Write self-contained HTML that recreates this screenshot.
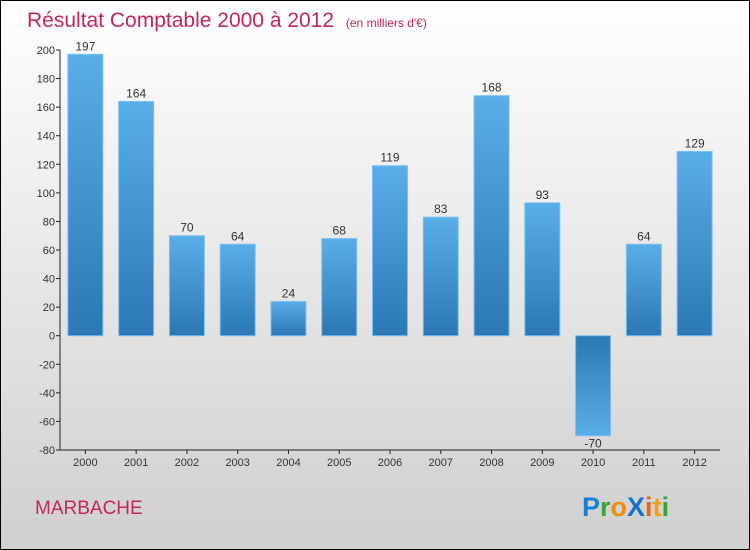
<!DOCTYPE html>
<html><head><meta charset="utf-8"><style>
body{margin:0;width:750px;height:550px;overflow:hidden}
svg{display:block;font-family:"Liberation Sans",sans-serif}
</style></head><body>
<svg id="c" width="750" height="550">
<defs>
<linearGradient id="bg" x1="0" y1="0" x2="0" y2="1"><stop offset="0" stop-color="#ffffff"/><stop offset="1" stop-color="#cfcfcf"/></linearGradient>
<linearGradient id="bp" x1="0" y1="0" x2="0" y2="1"><stop offset="0" stop-color="#5aaee8"/><stop offset="1" stop-color="#2a78b4"/></linearGradient>
<linearGradient id="bn" x1="0" y1="0" x2="0" y2="1"><stop offset="0" stop-color="#2a78b4"/><stop offset="1" stop-color="#5aaee8"/></linearGradient>
</defs>
<rect x="0.5" y="0.5" width="749" height="549" fill="url(#bg)" stroke="#000"/>
<text x="27" y="27" font-size="21" fill="#c0285a">Résultat Comptable 2000 à 2012 <tspan font-size="12" dx="6">(en milliers d'€)</tspan></text>
<text x="35" y="514" font-size="19" fill="#c0285a">MARBACHE</text>
<g font-size="27" font-weight="bold">
<text x="582" y="516"><tspan fill="#1a7fd0">P</tspan><tspan fill="#3aa23a">r</tspan><tspan fill="#f08a10">o</tspan><tspan fill="#1a6fc8">X</tspan><tspan fill="#f06010">i</tspan><tspan fill="#f0a010">t</tspan><tspan fill="#3aa23a">i</tspan></text>
</g>
<g id="axes"></g><g id="bars"></g>
</svg>
<script>
const categories=["2000","2001","2002","2003","2004","2005","2006","2007","2008","2009","2010","2011","2012"];
const values=[197,164,70,64,24,68,119,83,168,93,-70,64,129];
const yTicks=[200,180,160,140,120,100,80,60,40,20,0,-20,-40,-60,-80];
const NS="http://www.w3.org/2000/svg";
const x0=60,x1=720,yTop=50,yBot=450,vMax=200,vMin=-80;
const slot=(x1-x0)/categories.length;
function yS(v){return yTop+(vMax-v)/(vMax-vMin)*(yBot-yTop);}
function xC(i){return x0+slot*(i+0.5);}
function mk(t,a,p){const e=document.createElementNS(NS,t);for(const k in a)e.setAttribute(k,a[k]);p.appendChild(e);return e;}
const ax=document.getElementById('axes'),bg=document.getElementById('bars');
const yl=mk('line',{x1:x0,y1:yTop,x2:x0,y2:yBot,stroke:'#222'},ax);


const xl=mk('line',{x1:x0,y1:yBot,x2:x1,y2:yBot,stroke:'#222'},ax);


yTicks.forEach(v=>{const y=yS(v);
mk('line',{x1:x0-4,y1:y,x2:x0,y2:y,stroke:'#222'},ax);
const t=mk('text',{x:x0-5,y:y+4,'font-size':11,'text-anchor':'end',fill:'#333'},ax);t.textContent=v;

});
categories.forEach((c,i)=>{const x=xC(i);
mk('line',{x1:x,y1:yBot,x2:x,y2:yBot+4,stroke:'#222'},ax);
const t=mk('text',{x:x,y:yBot+16,'font-size':11,'text-anchor':'middle',fill:'#333'},ax);t.textContent=c;


const v=values[i],bw=35,y0=yS(0),yv=yS(v);
const r=mk('rect',{x:x-bw/2,y:Math.min(y0,yv),width:bw,height:Math.abs(yv-y0),fill:v>=0?'url(#bp)':'url(#bn)',stroke:'#7cc0f0','stroke-width':1},bg);


const l=mk('text',{x:x,y:v>=0?yv-4:yv+12,'font-size':12,'text-anchor':'middle',fill:'#333'},bg);l.textContent=v;

});
</script>
</body></html>
